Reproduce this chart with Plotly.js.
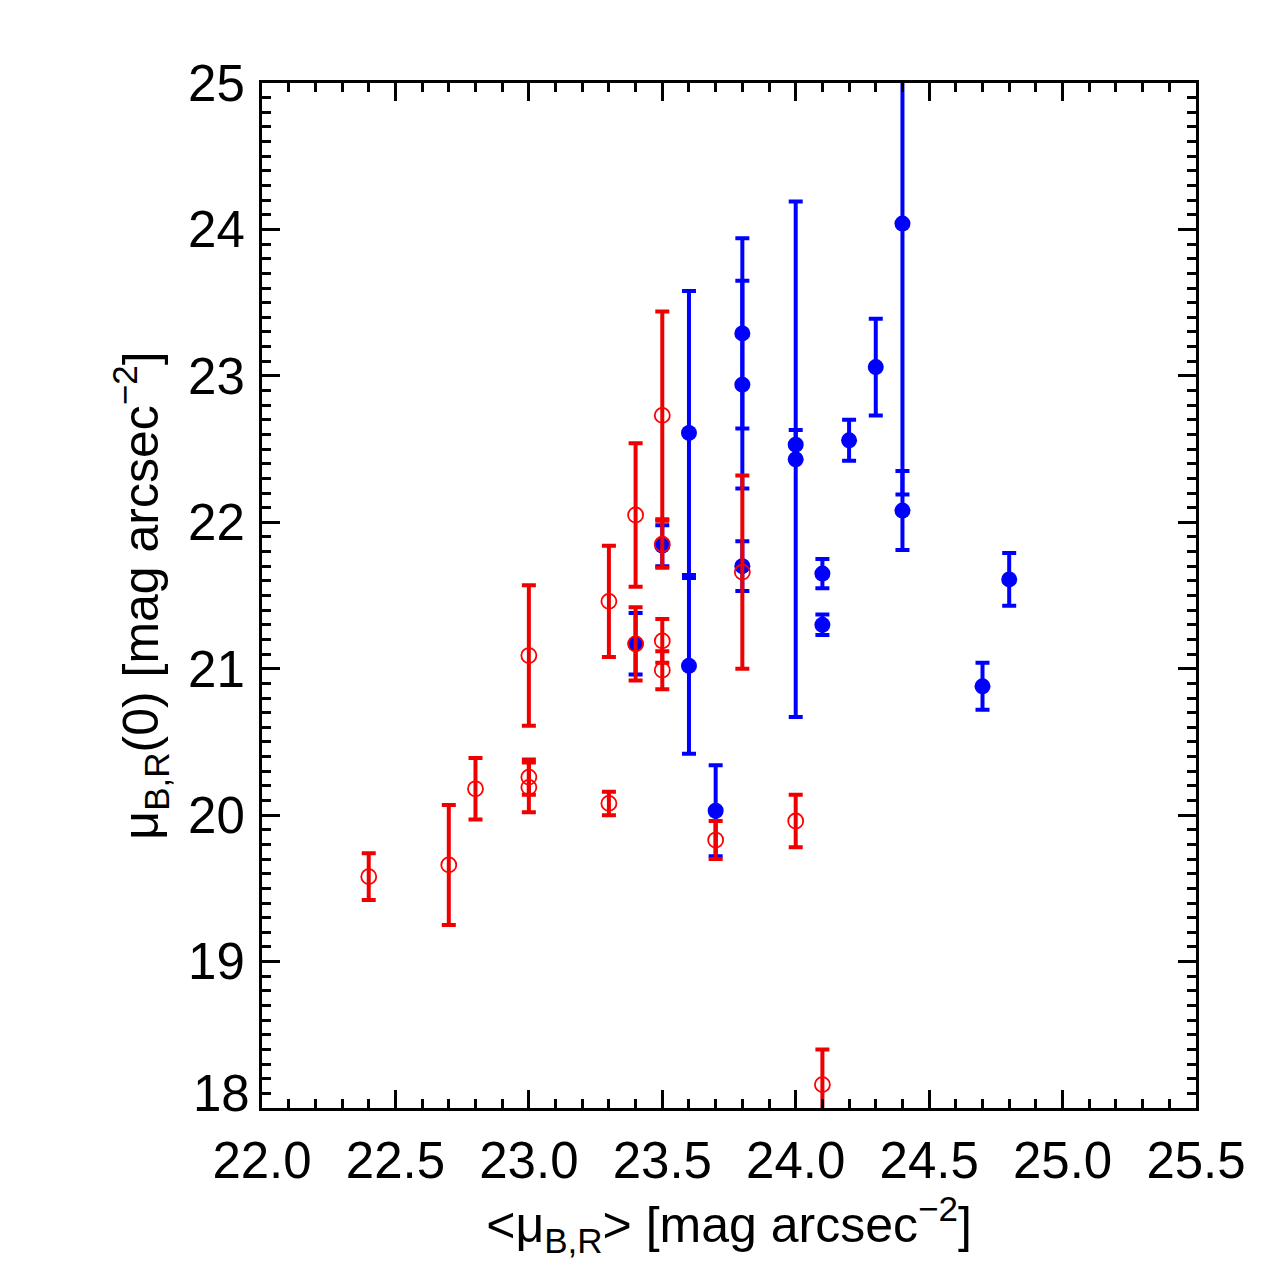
<!DOCTYPE html>
<html>
<head>
<meta charset="utf-8">
<script src="https://cdn.plot.ly/plotly-3.0.1.min.js"></script>
<style>
  body { margin: 0; background: #fff; }
  #myDiv { width: 1275px; height: 1275px; }
</style>
</head>
<body>
<div id="myDiv"></div>
<script>
// red sample: open circles
var redX = [22.4, 22.7, 22.8, 23.0, 23.0, 23.0, 23.3, 23.3, 23.4, 23.4, 23.5, 23.5, 23.5, 23.5, 23.7, 23.8, 24.0, 24.1];
var redY = [19.58, 19.66, 20.18, 21.09, 20.26, 20.19, 21.46, 20.08, 22.05, 21.17, 22.73, 21.85, 21.19, 20.99, 19.83, 21.66, 19.96, 18.16];
var redErr = [0.16, 0.41, 0.21, 0.48, 0.12, 0.17, 0.38, 0.08, 0.49, 0.25, 0.71, 0.16, 0.15, 0.13, 0.13, 0.66, 0.18, 0.24];

// blue sample: filled circles
var blueX = [23.4, 23.5, 23.6, 23.6, 23.7, 23.8, 23.8, 23.8, 24.0, 24.0, 24.1, 24.1, 24.2, 24.3, 24.4, 24.4, 24.7, 24.8];
var blueY = [21.17, 21.84, 22.61, 21.02, 20.03, 23.29, 22.94, 21.70, 22.53, 22.43, 21.65, 21.30, 22.56, 23.06, 24.04, 22.08, 20.88, 21.61];
var blueErr = [0.21, 0.14, 0.97, 0.60, 0.31, 0.65, 0.71, 0.17, 0.10, 1.76, 0.10, 0.07, 0.14, 0.33, 1.85, 0.27, 0.16, 0.18];

var xTicks = [22.0, 22.5, 23.0, 23.5, 24.0, 24.5, 25.0, 25.5];
var yTicks = [19, 20, 21, 22, 23, 24, 25];

var font = 'Liberation Sans, Arial, Helvetica, sans-serif';

var data = [
  {
    x: blueX, y: blueY,
    type: 'scatter', mode: 'markers',
    marker: {color: 'rgb(0,0,255)', size: 16, symbol: 'circle'},
    error_y: {type: 'data', array: blueErr, visible: true,
              color: 'rgb(0,0,255)', thickness: 4, width: 7},
    hoverinfo: 'x+y'
  },
  {
    x: redX, y: redY,
    type: 'scatter', mode: 'markers',
    marker: {color: 'rgb(255,0,0)', size: 15, symbol: 'circle-open',
             line: {color: 'rgb(255,0,0)', width: 1.8}},
    error_y: {type: 'data', array: redErr, visible: true,
              color: 'rgb(238,0,0)', thickness: 4, width: 7},
    hoverinfo: 'x+y'
  }
];

var axisCommon = {
  showgrid: false,
  zeroline: false,
  showline: true,
  linecolor: '#000',
  linewidth: 3,
  mirror: 'allticks',
  ticks: 'inside',
  ticklen: 18,
  tickwidth: 3,
  tickcolor: '#000',
  tickfont: {family: font, size: 51, color: '#000'}
};

var layout = {
  width: 1275,
  height: 1275,
  margin: {l: 262, r: 79, t: 83, b: 167},
  paper_bgcolor: '#fff',
  plot_bgcolor: '#fff',
  showlegend: false,
  font: {family: font, color: '#000'},
  xaxis: Object.assign({}, axisCommon, {
    range: [22.0, 25.5],
    tickvals: xTicks,
    ticktext: xTicks.map(function(v) { return v.toFixed(1); }),
    ticklabelstandoff: 6,
    minor: {dtick: 0.1, ticks: 'inside', ticklen: 9, tickwidth: 3, tickcolor: '#000'},
    title: {text: '&lt;μ<sub>B,R</sub>&gt; [mag arcsec<sup>−2</sup>]',
            font: {family: font, size: 50, color: '#000'}, standoff: 0}
  }),
  yaxis: Object.assign({}, axisCommon, {
    range: [18, 25],
    tickvals: yTicks,
    ticktext: yTicks.map(String),
    ticklabelstandoff: 4,
    minor: {dtick: 0.1, ticks: 'inside', ticklen: 9, tickwidth: 3, tickcolor: '#000'},
    title: {text: 'μ<sub>B,R</sub>(0) [mag arcsec<sup>−2</sup>]',
            font: {family: font, size: 50, color: '#000'}, standoff: 14}
  }),
  annotations: [
    {text: '18', xref: 'paper', yref: 'y', x: 0, y: 18.1,
     xanchor: 'right', yanchor: 'middle', xshift: -10, showarrow: false,
     font: {family: font, size: 51, color: '#000'}}
  ]
};

Plotly.newPlot('myDiv', data, layout, {staticPlot: true});
</script>
</body>
</html>
